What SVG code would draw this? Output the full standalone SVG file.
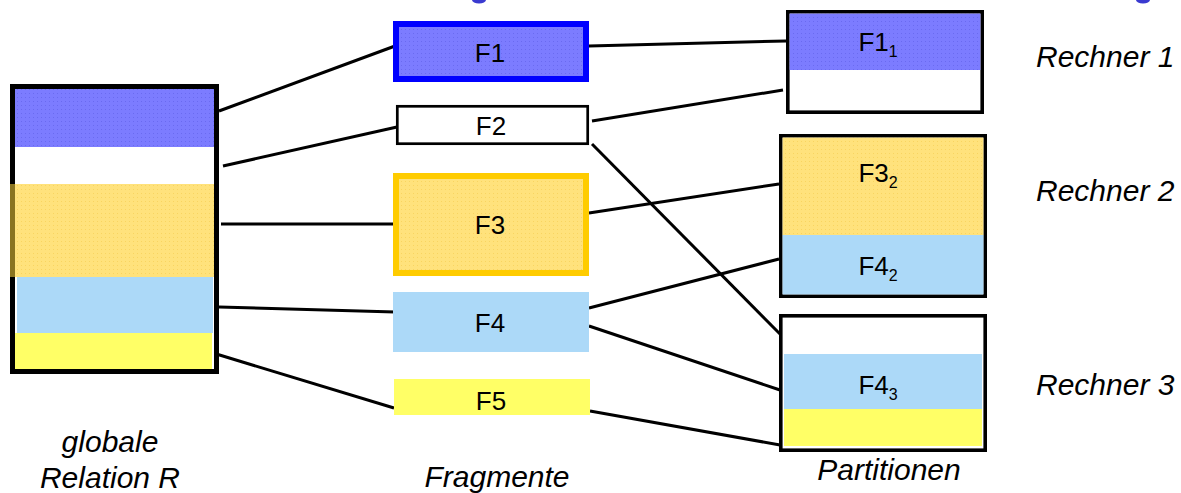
<svg xmlns="http://www.w3.org/2000/svg" width="1181" height="493" viewBox="0 0 1181 493">
<style>
.lbl{font-family:"Liberation Sans",Arial,sans-serif;font-size:26px;fill:#000;text-anchor:middle}
.sub{font-size:16px}
.it{font-family:"Liberation Sans",Arial,sans-serif;font-size:30px;font-style:italic;fill:#000}
.mid{text-anchor:middle}
.conn line{stroke:#000;stroke-width:3;stroke-linecap:butt}
.blue{fill:url(#pBlue)}
.orange{fill:url(#pOrange)}
.lblue{fill:#acd9f8}
.yel{fill:#ffff66}
</style>
<defs>
<pattern id="pBlue" width="4" height="4" patternUnits="userSpaceOnUse">
<rect width="4" height="4" fill="#7c7cff"/>
<rect x="1" y="1" width="1" height="1" fill="#6a6af0"/>
</pattern>
<pattern id="pOrange" width="4" height="4" patternUnits="userSpaceOnUse">
<rect width="4" height="4" fill="#ffe27c"/>
<rect x="1" y="1" width="1" height="1" fill="#f8d460"/>
</pattern>
</defs>
<rect width="1181" height="493" fill="#fff"/>
<g id="title-fragments" fill="#3a3ad0">
<ellipse cx="479" cy="0" rx="7" ry="3.5"/>
<ellipse cx="1143" cy="0" rx="7" ry="3.5"/>
</g>
<g class="conn" id="connectors">
<line x1="219" y1="111" x2="395" y2="46"/>
<line x1="223" y1="166" x2="397" y2="127"/>
<line x1="221" y1="224" x2="401" y2="224"/>
<line x1="219" y1="307" x2="395" y2="312"/>
<line x1="213" y1="353" x2="394" y2="408"/>
<line x1="589" y1="46" x2="786" y2="41"/>
<line x1="592" y1="121" x2="783" y2="90"/>
<line x1="592" y1="144" x2="780" y2="334"/>
<line x1="589" y1="213" x2="779" y2="184"/>
<line x1="589" y1="308" x2="779" y2="259"/>
<line x1="589" y1="326" x2="780" y2="390"/>
<line x1="590" y1="411" x2="780" y2="445"/>
</g>
<g id="relation-R">
<rect x="12.5" y="86.5" width="204" height="285" fill="#fff" stroke="#000" stroke-width="5"/>
<rect class="blue" x="15" y="89" width="199" height="58"/>
<rect class="orange" x="15" y="184" width="199" height="93"/>
<rect x="10" y="184" width="5" height="93" fill="#8a7420"/>
<rect class="lblue" x="17" y="277" width="196" height="56"/>
<rect class="yel" x="15" y="333" width="197" height="36"/>
<text class="it mid" x="110" y="452">globale</text>
<text class="it mid" x="110" y="488">Relation R</text>
</g>
<g id="F1">
<rect class="blue" x="396" y="24" width="190" height="55" stroke="#0000ff" stroke-width="6"/>
<text class="lbl" x="490" y="62">F1</text>
</g>
<g id="F2">
<rect x="397.3" y="106.3" width="190.4" height="37.4" fill="#fff" stroke="#000" stroke-width="2.7"/>
<text class="lbl" x="491" y="135">F2</text>
</g>
<g id="F3">
<rect class="orange" x="396" y="176" width="190" height="97" stroke="#ffcc00" stroke-width="6"/>
<text class="lbl" x="490" y="234">F3</text>
</g>
<g id="F4">
<rect class="lblue" x="393" y="292" width="196" height="60"/>
<text class="lbl" x="490" y="332">F4</text>
</g>
<g id="F5">
<rect class="yel" x="394" y="379" width="196" height="36"/>
<text class="lbl" x="491" y="410">F5</text>
<text class="it mid" x="497" y="487">Fragmente</text>
</g>
<g id="rechner1">
<rect x="787.8" y="11.8" width="194.4" height="100.4" fill="#fff" stroke="#000" stroke-width="3.6"/>
<rect class="blue" x="789.6" y="13.6" width="190.8" height="56.4"/>
<text class="lbl" x="878" y="51">F1<tspan class="sub" dy="6">1</tspan></text>
<text class="it" x="1036" y="67">Rechner 1</text>
</g>
<g id="rechner2">
<rect x="780.8" y="135.8" width="204.4" height="160.4" fill="#fff" stroke="#000" stroke-width="3.6"/>
<rect class="orange" x="782.6" y="137.6" width="200.8" height="97.4"/>
<rect class="lblue" x="782.6" y="235" width="200.8" height="59.4"/>
<text class="lbl" x="878" y="182">F3<tspan class="sub" dy="6">2</tspan></text>
<text class="lbl" x="878" y="275">F4<tspan class="sub" dy="6">2</tspan></text>
<text class="it" x="1036" y="201">Rechner 2</text>
</g>
<g id="rechner3">
<rect x="780.8" y="315.8" width="204.4" height="134.4" fill="#fff" stroke="#000" stroke-width="3.6"/>
<rect class="lblue" x="784" y="354" width="198" height="55"/>
<rect class="yel" x="784" y="409" width="198" height="37"/>
<text class="lbl" x="878" y="394">F4<tspan class="sub" dy="6">3</tspan></text>
<text class="it" x="1036" y="395">Rechner 3</text>
<text class="it mid" x="889" y="480">Partitionen</text>
</g>
</svg>
